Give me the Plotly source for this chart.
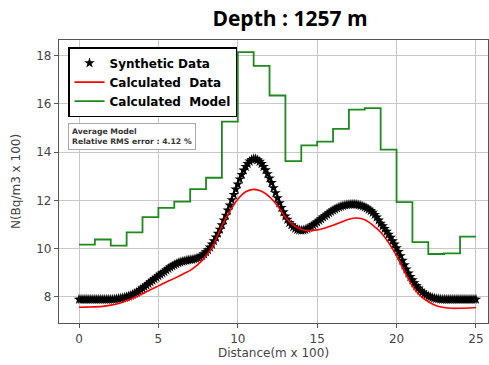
import plotly.graph_objects as go

# ---------------- data ----------------
# Synthetic data read at 0.125 spacing, one row per unit of distance
synth_rows = [
    [7.90, 7.90, 7.90, 7.90, 7.90, 7.90, 7.90, 7.90],          # 0
    [7.90, 7.90, 7.90, 7.90, 7.90, 7.90, 7.90, 7.90],          # 1
    [7.90, 7.90, 7.91, 7.92, 7.93, 7.94, 7.96, 7.98],          # 2
    [8.00, 8.03, 8.06, 8.10, 8.14, 8.19, 8.24, 8.30],          # 3
    [8.36, 8.42, 8.49, 8.55, 8.62, 8.68, 8.75, 8.81],          # 4
    [8.87, 8.93, 8.99, 9.05, 9.11, 9.17, 9.23, 9.28],          # 5
    [9.33, 9.37, 9.41, 9.44, 9.47, 9.49, 9.51, 9.53],          # 6
    [9.54, 9.55, 9.57, 9.59, 9.62, 9.66, 9.71, 9.78],          # 7
    [9.86, 9.95, 10.06, 10.18, 10.32, 10.47, 10.63, 10.80],    # 8
    [10.98, 11.18, 11.38, 11.59, 11.80, 12.02, 12.24, 12.46],  # 9
    [12.67, 12.88, 13.07, 13.25, 13.40, 13.52, 13.62, 13.69],  # 10
    [13.72, 13.72, 13.68, 13.61, 13.52, 13.40, 13.26, 13.10],  # 11
    [12.92, 12.73, 12.52, 12.31, 12.10, 11.89, 11.70, 11.52],  # 12
    [11.35, 11.21, 11.08, 10.98, 10.90, 10.84, 10.79, 10.77],  # 13
    [10.76, 10.77, 10.79, 10.83, 10.87, 10.92, 10.98, 11.04],  # 14
    [11.10, 11.17, 11.23, 11.30, 11.36, 11.42, 11.48, 11.54],  # 15
    [11.59, 11.64, 11.68, 11.72, 11.75, 11.78, 11.80, 11.82],  # 16
    [11.83, 11.84, 11.84, 11.84, 11.83, 11.81, 11.79, 11.76],  # 17
    [11.72, 11.68, 11.63, 11.57, 11.50, 11.41, 11.30, 11.18],  # 18
    [11.05, 10.94, 10.83, 10.71, 10.59, 10.46, 10.32, 10.18],  # 19
    [10.03, 9.87, 9.70, 9.51, 9.32, 9.15, 8.98, 8.84],         # 20
    [8.70, 8.58, 8.46, 8.36, 8.27, 8.20, 8.13, 8.08],          # 21
    [8.03, 8.00, 7.97, 7.95, 7.93, 7.92, 7.91, 7.90],          # 22
    [7.90, 7.90, 7.90, 7.90, 7.90, 7.90, 7.90, 7.90],          # 23
    [7.90, 7.90, 7.90, 7.90, 7.90, 7.90, 7.90, 7.90],          # 24
    [7.90],                                                    # 25
]
synth_y = [v for row in synth_rows for v in row]
synth_x = [i * 0.125 for i in range(len(synth_y))]

calc_x = [i * 0.5 for i in range(51)]
calc_y = [
    7.57, 7.58, 7.59, 7.61, 7.66, 7.73, 7.85, 7.98, 8.13, 8.30,
    8.46, 8.62, 8.77, 8.93, 9.10, 9.35, 9.70, 10.20, 10.95, 11.55,
    12.05, 12.36, 12.46, 12.38, 12.15, 11.78, 11.30, 10.98, 10.80, 10.75,
    10.78, 10.86, 10.97, 11.10, 11.22, 11.27, 11.20, 10.98, 10.68, 10.25,
    9.70, 9.05, 8.45, 8.05, 7.80, 7.64, 7.56, 7.53, 7.53, 7.54,
    7.56,
]

model_edges = list(range(26))
model_vals = [10.17, 10.38, 10.13, 10.68, 11.31, 11.69, 11.95, 12.47, 12.94, 15.27,
              18.15, 17.58, 16.35, 13.63, 14.28, 14.44, 14.97, 15.76, 15.83, 14.11,
              11.93, 10.27, 9.78, 9.81, 10.50]

x_ticks = [0, 5, 10, 15, 20, 25]
y_ticks = [8, 10, 12, 14, 16, 18]

title_text = "Depth : 1257 m"
x_label = "Distance(m x 100)"
y_label = "N(Bq/m3 x 100)"
info_text = "Average Model<br>Relative RMS error : 4.12 %"

# ---------------- figure ----------------
fig = go.Figure()

fig.add_trace(go.Scatter(
    x=synth_x, y=synth_y, mode="markers", name="Synthetic Data",
    marker=dict(symbol="star", size=8, color="black", line=dict(width=0)),
))
fig.add_trace(go.Scatter(
    x=calc_x, y=calc_y, mode="lines", name="Calculated  Data",
    line=dict(color="#ff0000", width=1.6, shape="spline", smoothing=0.8),
))
fig.add_trace(go.Scatter(
    x=model_edges, y=model_vals + [model_vals[-1]], mode="lines", name="Calculated  Model",
    line=dict(color="#1e8a1e", width=1.8, shape="hv"),
))

axis_common = dict(
    showgrid=True, gridcolor="#c8c8c8", gridwidth=1,
    showline=True, linecolor="#555555", linewidth=1.2, mirror=True,
    ticks="outside", ticklen=4, tickcolor="#555555",
    tickfont=dict(family="DejaVu Sans", size=12, color="#444444"),
    zeroline=False,
)

fig.update_xaxes(range=[-1.26, 25.76], tickvals=x_ticks,
                 title=dict(text=x_label, font=dict(family="DejaVu Sans", size=12, color="#444444"), standoff=4),
                 **axis_common)
fig.update_yaxes(range=[6.92, 18.65], tickvals=y_ticks,
                 title=dict(text=y_label, font=dict(family="DejaVu Sans", size=12, color="#444444"), standoff=13),
                 **axis_common)

fig.update_layout(
    width=489, height=365,
    margin=dict(l=59, r=1, t=40, b=42),
    paper_bgcolor="white", plot_bgcolor="white",
    title=dict(text="<b>" + title_text + "</b>", x=0.593, xanchor="center", y=0.95, yanchor="middle",
               font=dict(family="Open Sans", size=21, color="black")),
    legend=dict(
        x=0.021, y=0.975, xanchor="left", yanchor="top",
        bgcolor="white", bordercolor="black", borderwidth=1.5,
        font=dict(family="DejaVu Sans", size=12, color="black", weight="bold"),
        tracegroupgap=0, itemwidth=30,
    ),
    showlegend=True,
    annotations=[dict(
        text="<b>" + info_text + "</b>", xref="paper", yref="paper",
        x=0.02, y=0.705, xanchor="left", yanchor="top", align="left", showarrow=False,
        font=dict(family="DejaVu Sans", size=7.7, color="#333333"),
        bgcolor="white", bordercolor="#aaaaaa", borderwidth=1, borderpad=3,
    )],
)

fig.write_html("out.html")
